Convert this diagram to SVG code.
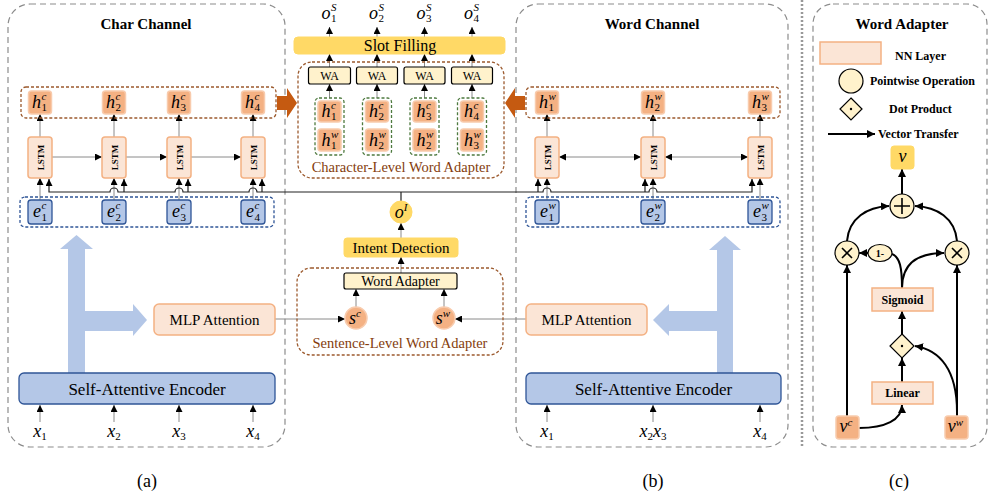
<svg xmlns="http://www.w3.org/2000/svg" width="989" height="496" viewBox="0 0 989 496">
<defs>
<style>
.panel{fill:none;stroke:#8c8c8c;stroke-width:1.2;stroke-dasharray:6,4}
.rowb{fill:none;stroke:#9c5a2e;stroke-width:1.3;stroke-dasharray:3,2}
.rowe{fill:none;stroke:#2f5597;stroke-width:1.3;stroke-dasharray:3,2}
.pair{fill:none;stroke:#4e7a3f;stroke-width:1.3;stroke-dasharray:3,2}
.hb{fill:#f4b183;stroke:#f8cbad;stroke-width:1.5}
.eb{fill:#b4c7e7;stroke:#2f5597;stroke-width:1.3}
.nn{fill:#fbe5d6;stroke:#f4b183;stroke-width:1.5}
.gold{fill:#ffd966;stroke:#ffd966}
.wa{fill:#fff2cc;stroke:#000;stroke-width:1.2}
.big{fill:#b4c7e7}
.oarr{fill:#c55a11}
.ln{fill:none;stroke:#8a8a8a;stroke-width:1}
.lk{fill:none;stroke:#222;stroke-width:1.2}
.lc{fill:none;stroke:#000;stroke-width:2}
.op{fill:#fff2cc;stroke:#000;stroke-width:1.2}
.sym{fill:none;stroke:#000;stroke-width:1.6}
text{font-family:"Liberation Serif","Times New Roman",serif;fill:#000}
.t{font-size:15px}
.ttl{font-size:15px;font-weight:bold}
.lg{font-size:12px;font-weight:bold}
.mi{font-style:italic;font-size:18px}
.sc{font-style:italic;font-size:11px}
.sn{font-size:11px;font-style:normal}
.br{fill:#843c0c;font-size:14.5px}
.ls{font-size:9px;font-weight:bold}
.cap{font-size:18px}
</style>
<marker id="a" viewBox="0 0 10 10" refX="10" refY="5" markerWidth="7" markerHeight="7" markerUnits="userSpaceOnUse" orient="auto-start-reverse"><path d="M0,0L10,5L0,10z" fill="#000"/></marker>
<marker id="b" viewBox="0 0 10 10" refX="10" refY="5" markerWidth="8" markerHeight="8" markerUnits="userSpaceOnUse" orient="auto-start-reverse"><path d="M0,0L10,5L0,10z" fill="#000"/></marker>
</defs>

<g id="panels">
<rect class="panel" x="8" y="4" width="277" height="443" rx="22"/>
<rect class="panel" x="516" y="4" width="272" height="443" rx="22"/>
<rect class="panel" x="813" y="4" width="174" height="443" rx="20"/>
<line x1="802" y1="0" x2="802" y2="448" stroke="#999" stroke-width="2.5" stroke-dasharray="2,2"/>
<text class="ttl" x="146" y="29" text-anchor="middle">Char Channel</text>
<text class="ttl" x="652" y="29" text-anchor="middle">Word Channel</text>
<text class="ttl" x="902" y="29" text-anchor="middle">Word Adapter</text>
<text class="cap" x="147" y="487" text-anchor="middle">(a)</text>
<text class="cap" x="653" y="487" text-anchor="middle">(b)</text>
<text class="cap" x="899" y="487" text-anchor="middle">(c)</text>
</g>

<g id="connectors">
<path class="ln" d="M40,137V114" marker-end="url(#a)"/>
<path class="ln" d="M114,137V114" marker-end="url(#a)"/>
<path class="ln" d="M179,137V114" marker-end="url(#a)"/>
<path class="ln" d="M253,137V114" marker-end="url(#a)"/>
<path class="ln" d="M52,157H102" marker-end="url(#a)"/>
<path class="ln" d="M126,157H167" marker-end="url(#a)"/>
<path class="ln" d="M191,157H241" marker-end="url(#a)"/>
<path class="ln" d="M40,200V178" marker-end="url(#a)"/>
<path class="ln" d="M114,200V178" marker-end="url(#a)"/>
<path class="ln" d="M179,200V178" marker-end="url(#a)"/>
<path class="ln" d="M253,200V178" marker-end="url(#a)"/>
<path class="ln" d="M547,137V114" marker-end="url(#a)"/>
<path class="ln" d="M653,137V114" marker-end="url(#a)"/>
<path class="ln" d="M760,137V114" marker-end="url(#a)"/>
<path class="ln" d="M559,157H641" marker-start="url(#a)" marker-end="url(#a)"/>
<path class="ln" d="M665,157H748" marker-start="url(#a)" marker-end="url(#a)"/>
<path class="ln" d="M547,200V178" marker-end="url(#a)"/>
<path class="ln" d="M653,200V178" marker-end="url(#a)"/>
<path class="ln" d="M760,200V178" marker-end="url(#a)"/>
<path class="lk" d="M49,179V192H110A4,4 0 0 1 118,192H175A4,4 0 0 1 183,192H249A4,4 0 0 1 257,192H543A4,4 0 0 1 551,192H649A4,4 0 0 1 657,192H752V179" marker-start="url(#a)" marker-end="url(#a)"/>
<path class="lk" d="M124,192V179" marker-end="url(#a)"/>
<path class="lk" d="M188,192V179" marker-end="url(#a)"/>
<path class="lk" d="M262,192V179" marker-end="url(#a)"/>
<path class="lk" d="M538,192V179" marker-end="url(#a)"/>
<path class="lk" d="M645,192V179" marker-end="url(#a)"/>
<path class="lk" d="M401,192V201"/>
<path class="ln" d="M40,422V405" marker-end="url(#a)"/>
<path class="ln" d="M114,422V405" marker-end="url(#a)"/>
<path class="ln" d="M179,422V405" marker-end="url(#a)"/>
<path class="ln" d="M253,422V405" marker-end="url(#a)"/>
<path class="ln" d="M547,422V405" marker-end="url(#a)"/>
<path class="ln" d="M653,422V405" marker-end="url(#a)"/>
<path class="ln" d="M760,422V405" marker-end="url(#a)"/>
<path class="ln" d="M329.5,37V27" marker-end="url(#a)"/>
<path class="ln" d="M377,37V27" marker-end="url(#a)"/>
<path class="ln" d="M424.5,37V27" marker-end="url(#a)"/>
<path class="ln" d="M472,37V27" marker-end="url(#a)"/>
<path class="ln" d="M329.5,67V54" marker-end="url(#a)"/>
<path class="ln" d="M377,67V54" marker-end="url(#a)"/>
<path class="ln" d="M424.5,67V54" marker-end="url(#a)"/>
<path class="ln" d="M472,67V54" marker-end="url(#a)"/>
<path class="ln" d="M329.5,98V84" marker-end="url(#a)"/>
<path class="ln" d="M377,98V84" marker-end="url(#a)"/>
<path class="ln" d="M424.5,98V84" marker-end="url(#a)"/>
<path class="ln" d="M472,98V84" marker-end="url(#a)"/>
<path class="ln" d="M401,238V223" marker-end="url(#a)"/>
<path class="ln" d="M401,273V257" marker-end="url(#a)"/>
<path class="ln" d="M356,307V289" marker-end="url(#a)"/>
<path class="ln" d="M444,307V289" marker-end="url(#a)"/>
<path class="ln" d="M275,319H345" marker-end="url(#a)"/>
<path class="ln" d="M526,319H455" marker-end="url(#a)"/>
<polygon class="big" points="68,373 68,249 60,249 76.5,235 93,249 85,249 85,311 133,311 133,304 147,320 133,336 133,331 85,331 85,373"/>
<polygon class="big" points="733,373 733,250 741,250 725,236 709,250 717,250 717,311 669,311 669,304 653,320 669,336 669,331 717,331 717,373"/>
<polygon class="oarr" points="277,96 287,96 287,88 297,103 287,118 287,110 277,110"/>
<polygon class="oarr" points="525,96 515,96 515,88 505,103 515,118 515,110 525,110"/>
<path class="lc" d="M828,134H875" marker-end="url(#b)"/>
<path class="lc" d="M902,194V169" marker-end="url(#b)"/>
<path class="lc" d="M847,241C849,218 867,207 889,206" marker-end="url(#b)"/>
<path class="lc" d="M957,241C955,218 937,207 915,206" marker-end="url(#b)"/>
<path class="lc" d="M868,253H859" marker-end="url(#b)"/>
<path class="lc" d="M902,288C902,268 900,257 892,254"/>
<path class="lc" d="M902,288C902,263 918,253 944,253" marker-end="url(#b)"/>
<path class="lc" d="M902,334V311" marker-end="url(#b)"/>
<path class="lc" d="M902,382V358" marker-end="url(#b)"/>
<path class="lc" d="M847,416V265" marker-end="url(#b)"/>
<path class="lc" d="M957,416V265" marker-end="url(#b)"/>
<path class="lc" d="M859,428C885,428 902,420 902,405" marker-end="url(#b)"/>
<path class="lc" d="M957,412C957,370 940,350 915,346" marker-end="url(#b)"/>
</g>

<g id="char-h-row">
<rect class="rowb" x="21" y="87" width="255" height="31" rx="5"/>
<rect class="hb" x="28.5" y="91" width="23" height="23" rx="3"/>
<rect class="hb" x="102.5" y="91" width="23" height="23" rx="3"/>
<rect class="hb" x="167.5" y="91" width="23" height="23" rx="3"/>
<rect class="hb" x="241.5" y="91" width="23" height="23" rx="3"/>
<text class="mi" x="41" y="108" text-anchor="end">h</text><text class="sc" x="41.5" y="100">c</text><text class="sn" x="41.5" y="111">1</text>
<text class="mi" x="115" y="108" text-anchor="end">h</text><text class="sc" x="115.5" y="100">c</text><text class="sn" x="115.5" y="111">2</text>
<text class="mi" x="180" y="108" text-anchor="end">h</text><text class="sc" x="180.5" y="100">c</text><text class="sn" x="180.5" y="111">3</text>
<text class="mi" x="254" y="108" text-anchor="end">h</text><text class="sc" x="254.5" y="100">c</text><text class="sn" x="254.5" y="111">4</text>
</g>

<g id="char-lstm">
<rect class="nn" x="28" y="137" width="24" height="41" rx="3"/>
<rect class="nn" x="102" y="137" width="24" height="41" rx="3"/>
<rect class="nn" x="167" y="137" width="24" height="41" rx="3"/>
<rect class="nn" x="241" y="137" width="24" height="41" rx="3"/>
<text class="ls" transform="translate(43.5,157.5) rotate(-90)" text-anchor="middle">LSTM</text>
<text class="ls" transform="translate(117.5,157.5) rotate(-90)" text-anchor="middle">LSTM</text>
<text class="ls" transform="translate(182.5,157.5) rotate(-90)" text-anchor="middle">LSTM</text>
<text class="ls" transform="translate(256.5,157.5) rotate(-90)" text-anchor="middle">LSTM</text>
</g>

<g id="char-e-row">
<rect class="rowe" x="20" y="197" width="254" height="30" rx="5"/>
<rect class="eb" x="28" y="200" width="24" height="24" rx="3"/>
<rect class="eb" x="102" y="200" width="24" height="24" rx="3"/>
<rect class="eb" x="167" y="200" width="24" height="24" rx="3"/>
<rect class="eb" x="241" y="200" width="24" height="24" rx="3"/>
<text class="mi" x="41" y="217" text-anchor="end">e</text><text class="sc" x="41.5" y="209">c</text><text class="sn" x="41.5" y="221">1</text>
<text class="mi" x="115" y="217" text-anchor="end">e</text><text class="sc" x="115.5" y="209">c</text><text class="sn" x="115.5" y="221">2</text>
<text class="mi" x="180" y="217" text-anchor="end">e</text><text class="sc" x="180.5" y="209">c</text><text class="sn" x="180.5" y="221">3</text>
<text class="mi" x="254" y="217" text-anchor="end">e</text><text class="sc" x="254.5" y="209">c</text><text class="sn" x="254.5" y="221">4</text>
</g>

<g id="char-mlp">
<rect class="nn" x="154" y="304" width="121" height="31" rx="5"/>
<text class="t" x="214.5" y="325" text-anchor="middle" font-size="14">MLP Attention</text>
</g>
<g id="char-encoder">
<rect class="eb" x="19" y="373" width="256" height="31" rx="5"/>
<text x="147" y="395" text-anchor="middle" font-size="17">Self-Attentive Encoder</text>
</g>
<g id="char-inputs">
<text class="mi" x="40" y="437" text-anchor="middle" font-size="16">x<tspan class="sn" dy="3">1</tspan></text>
<text class="mi" x="114" y="437" text-anchor="middle" font-size="16">x<tspan class="sn" dy="3">2</tspan></text>
<text class="mi" x="179" y="437" text-anchor="middle" font-size="16">x<tspan class="sn" dy="3">3</tspan></text>
<text class="mi" x="253" y="437" text-anchor="middle" font-size="16">x<tspan class="sn" dy="3">4</tspan></text>
</g>

<g id="word-h-row">
<rect class="rowb" x="526" y="87" width="254" height="31" rx="5"/>
<rect class="hb" x="535.5" y="91" width="23" height="23" rx="3"/>
<rect class="hb" x="641.5" y="91" width="23" height="23" rx="3"/>
<rect class="hb" x="748.5" y="91" width="23" height="23" rx="3"/>
<text class="mi" x="548" y="108" text-anchor="end">h</text><text class="sc" x="548.5" y="100">w</text><text class="sn" x="548.5" y="111">1</text>
<text class="mi" x="654" y="108" text-anchor="end">h</text><text class="sc" x="654.5" y="100">w</text><text class="sn" x="654.5" y="111">2</text>
<text class="mi" x="761" y="108" text-anchor="end">h</text><text class="sc" x="761.5" y="100">w</text><text class="sn" x="761.5" y="111">3</text>
</g>

<g id="word-lstm">
<rect class="nn" x="535" y="137" width="24" height="41" rx="3"/>
<rect class="nn" x="641" y="137" width="24" height="41" rx="3"/>
<rect class="nn" x="748" y="137" width="24" height="41" rx="3"/>
<text class="ls" transform="translate(550.5,157.5) rotate(-90)" text-anchor="middle">LSTM</text>
<text class="ls" transform="translate(656.5,157.5) rotate(-90)" text-anchor="middle">LSTM</text>
<text class="ls" transform="translate(763.5,157.5) rotate(-90)" text-anchor="middle">LSTM</text>
</g>

<g id="word-e-row">
<rect class="rowe" x="526" y="197" width="254" height="30" rx="5"/>
<rect class="eb" x="535" y="200" width="24" height="24" rx="3"/>
<rect class="eb" x="641" y="200" width="24" height="24" rx="3"/>
<rect class="eb" x="748" y="200" width="24" height="24" rx="3"/>
<text class="mi" x="548" y="217" text-anchor="end">e</text><text class="sc" x="548.5" y="209">w</text><text class="sn" x="548.5" y="221">1</text>
<text class="mi" x="654" y="217" text-anchor="end">e</text><text class="sc" x="654.5" y="209">w</text><text class="sn" x="654.5" y="221">2</text>
<text class="mi" x="761" y="217" text-anchor="end">e</text><text class="sc" x="761.5" y="209">w</text><text class="sn" x="761.5" y="221">3</text>
</g>

<g id="word-mlp">
<rect class="nn" x="526" y="304" width="121" height="31" rx="5"/>
<text class="t" x="586.5" y="325" text-anchor="middle" font-size="14">MLP Attention</text>
</g>
<g id="word-encoder">
<rect class="eb" x="526" y="373" width="255" height="31" rx="5"/>
<text x="653.5" y="395" text-anchor="middle" font-size="17">Self-Attentive Encoder</text>
</g>
<g id="word-inputs">
<text class="mi" x="547" y="437" text-anchor="middle" font-size="16">x<tspan class="sn" dy="3">1</tspan></text>
<text class="mi" x="653" y="437" text-anchor="middle" font-size="16">x<tspan class="sn" dy="3">2</tspan><tspan dy="-3">x</tspan><tspan class="sn" dy="3">3</tspan></text>
<text class="mi" x="760" y="437" text-anchor="middle" font-size="16">x<tspan class="sn" dy="3">4</tspan></text>
</g>

<g id="slot-outputs">
<text class="mi" x="330.5" y="19" text-anchor="end" font-size="17">o</text><text class="sc" x="331" y="11">S</text><text class="sn" x="331" y="22">1</text>
<text class="mi" x="378" y="19" text-anchor="end" font-size="17">o</text><text class="sc" x="378.5" y="11">S</text><text class="sn" x="378.5" y="22">2</text>
<text class="mi" x="425.5" y="19" text-anchor="end" font-size="17">o</text><text class="sc" x="426" y="11">S</text><text class="sn" x="426" y="22">3</text>
<text class="mi" x="473" y="19" text-anchor="end" font-size="17">o</text><text class="sc" x="473.5" y="11">S</text><text class="sn" x="473.5" y="22">4</text>
</g>
<g id="slot-filling">
<rect class="gold" x="294" y="37" width="211" height="17" rx="4"/>
<text x="400" y="51" text-anchor="middle" font-size="16">Slot Filling</text>
</g>

<g id="char-level-word-adapter">
<rect class="rowb" x="298" y="62" width="206" height="116" rx="14"/>
<text class="br" x="401" y="172" text-anchor="middle">Character-Level Word Adapter</text>
<rect class="wa" x="308.5" y="67" width="42" height="17" rx="2"/>
<rect class="wa" x="356.5" y="67" width="41" height="17" rx="2"/>
<rect class="wa" x="404" y="67" width="41" height="17" rx="2"/>
<rect class="wa" x="451.5" y="67" width="41" height="17" rx="2"/>
<text x="329.5" y="80" text-anchor="middle" font-size="12">WA</text>
<text x="377" y="80" text-anchor="middle" font-size="12">WA</text>
<text x="424.5" y="80" text-anchor="middle" font-size="12">WA</text>
<text x="472" y="80" text-anchor="middle" font-size="12">WA</text>
<rect class="pair" x="315" y="98" width="29" height="57" rx="4"/>
<rect class="pair" x="362.5" y="98" width="29" height="57" rx="4"/>
<rect class="pair" x="410" y="98" width="29" height="57" rx="4"/>
<rect class="pair" x="457.5" y="98" width="29" height="57" rx="4"/>
<rect class="hb" x="318" y="101" width="23" height="21" rx="3"/>
<rect class="hb" x="318" y="129" width="23" height="22" rx="3"/>
<rect class="hb" x="365.5" y="101" width="23" height="21" rx="3"/>
<rect class="hb" x="365.5" y="129" width="23" height="22" rx="3"/>
<rect class="hb" x="413" y="101" width="23" height="21" rx="3"/>
<rect class="hb" x="413" y="129" width="23" height="22" rx="3"/>
<rect class="hb" x="460.5" y="101" width="23" height="21" rx="3"/>
<rect class="hb" x="460.5" y="129" width="23" height="22" rx="3"/>
<text class="mi" x="330.5" y="117" text-anchor="end">h</text><text class="sc" x="331" y="109">c</text><text class="sn" x="331" y="120">1</text>
<text class="mi" x="330.5" y="145.5" text-anchor="end">h</text><text class="sc" x="331" y="137.5">w</text><text class="sn" x="331" y="148.5">1</text>
<text class="mi" x="378" y="117" text-anchor="end">h</text><text class="sc" x="378.5" y="109">c</text><text class="sn" x="378.5" y="120">2</text>
<text class="mi" x="378" y="145.5" text-anchor="end">h</text><text class="sc" x="378.5" y="137.5">w</text><text class="sn" x="378.5" y="148.5">2</text>
<text class="mi" x="425.5" y="117" text-anchor="end">h</text><text class="sc" x="426" y="109">c</text><text class="sn" x="426" y="120">3</text>
<text class="mi" x="425.5" y="145.5" text-anchor="end">h</text><text class="sc" x="426" y="137.5">w</text><text class="sn" x="426" y="148.5">2</text>
<text class="mi" x="473" y="117" text-anchor="end">h</text><text class="sc" x="473.5" y="109">c</text><text class="sn" x="473.5" y="120">4</text>
<text class="mi" x="473" y="145.5" text-anchor="end">h</text><text class="sc" x="473.5" y="137.5">w</text><text class="sn" x="473.5" y="148.5">3</text>
</g>

<g id="intent-output">
<circle class="gold" cx="401" cy="212" r="11"/>
<text class="mi" x="401" y="218" text-anchor="middle" font-size="17">o<tspan class="sc" dy="-7">I</tspan></text>
</g>
<g id="intent-detection">
<rect class="gold" x="344" y="238" width="114" height="19" rx="3"/>
<text x="401" y="252.5" text-anchor="middle" font-size="15">Intent Detection</text>
</g>
<g id="sentence-level-word-adapter">
<rect class="rowb" x="297" y="268" width="206" height="87" rx="14"/>
<text class="br" x="400" y="348" text-anchor="middle">Sentence-Level Word Adapter</text>
<rect class="wa" x="344" y="273" width="113" height="16" rx="2"/>
<text x="400.5" y="286" text-anchor="middle" font-size="14">Word Adapter</text>
<circle class="hb" cx="356" cy="318" r="11"/>
<circle class="hb" cx="444" cy="318" r="11"/>
<text class="mi" x="355" y="324" text-anchor="middle" font-size="18">s<tspan class="sc" font-size="12" dy="-7">c</tspan></text>
<text class="mi" x="443" y="324" text-anchor="middle" font-size="18">s<tspan class="sc" font-size="12" dy="-7">w</tspan></text>
</g>

<g id="legend">
<rect class="nn" x="820" y="42" width="61" height="22"/>
<text class="lg" x="895" y="60">NN Layer</text>
<circle class="op" cx="851" cy="81" r="12"/>
<text class="lg" x="870" y="85">Pointwise Operation</text>
<polygon class="op" points="851,98 862,109 851,120 840,109"/>
<circle cx="851" cy="109" r="1.2" fill="#000"/>
<text class="lg" x="889" y="113">Dot Product</text>
<text class="lg" x="878" y="138">Vector Transfer</text>
</g>

<g id="wa-v">
<rect class="gold" x="891" y="146" width="23" height="23" rx="3"/>
<text class="mi" x="902.5" y="162" text-anchor="middle">v</text>
</g>
<g id="wa-plus">
<circle class="op" cx="902" cy="206" r="12"/>
<path class="sym" d="M894,206H910M902,198V214"/>
</g>
<g id="wa-times-left">
<circle class="op" cx="847" cy="253" r="12"/>
<path class="sym" d="M842,248L852,258M852,248L842,258"/>
</g>
<g id="wa-times-right">
<circle class="op" cx="957" cy="253" r="12"/>
<path class="sym" d="M952,248L962,258M962,248L952,258"/>
</g>
<g id="wa-one-minus">
<ellipse class="op" cx="880" cy="253" rx="12" ry="8.5"/>
<text x="880" y="257" text-anchor="middle" font-size="10" font-weight="bold">1-</text>
</g>
<g id="wa-sigmoid">
<rect class="nn" x="872" y="288" width="61" height="23"/>
<text class="lg" x="902.5" y="304" text-anchor="middle">Sigmoid</text>
</g>
<g id="wa-dot">
<polygon class="op" points="902,334 914,346 902,358 890,346"/>
<circle cx="902" cy="346" r="1.2" fill="#000"/>
</g>
<g id="wa-linear">
<rect class="nn" x="872" y="382" width="61" height="22"/>
<text class="lg" x="902.5" y="397" text-anchor="middle">Linear</text>
</g>
<g id="wa-vc">
<rect class="hb" x="836" y="416" width="23" height="23" rx="3"/>
<text class="mi" x="846" y="432" text-anchor="middle">v<tspan class="sc" font-size="12" dy="-6">c</tspan></text>
</g>
<g id="wa-vw">
<rect class="hb" x="945" y="416" width="23" height="23" rx="3"/>
<text class="mi" x="955.5" y="432" text-anchor="middle">v<tspan class="sc" font-size="12" dy="-6">w</tspan></text>
</g>
</svg>
